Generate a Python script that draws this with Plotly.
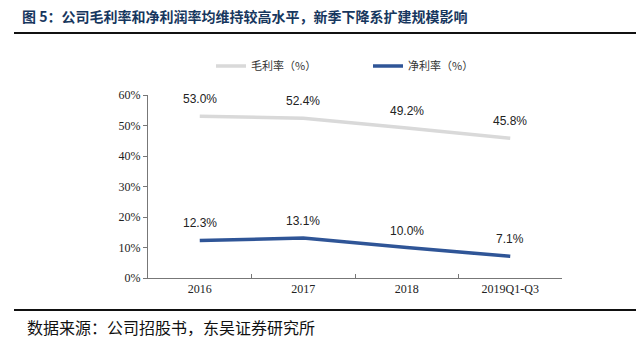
import plotly.graph_objects as go

categories = ["2016", "2017", "2018", "2019Q1-Q3"]
gross_margin = [0.530, 0.524, 0.492, 0.458]
net_margin = [0.123, 0.131, 0.100, 0.071]
series_names = ["毛利率（%）", "净利率（%）"]
y_ticks = [0, 0.1, 0.2, 0.3, 0.4, 0.5, 0.6]

title_text = "图 5：公司毛利率和净利润率均维持较高水平，新季下降系扩建规模影响"
source_text = "数据来源：公司招股书，东吴证券研究所"

CJK = "Noto Sans CJK SC"
W, H = 636, 341
L, R, T, B = 148, 74, 95, 63
PW, PH = W - L - R, H - T - B


def px(x):
    return (x - L) / PW


def py(y):
    return (H - B - y) / PH


fig = go.Figure()
fig.add_trace(go.Scatter(x=categories, y=gross_margin, mode="lines", name=series_names[0],
                         line=dict(color="#D9D9D9", width=3.5)))
fig.add_trace(go.Scatter(x=categories, y=net_margin, mode="lines", name=series_names[1],
                         line=dict(color="#2F5597", width=3.5)))

for series in (gross_margin, net_margin):
    for i, v in enumerate(series):
        fig.add_annotation(x=i, y=v, xref="x", yref="y", text=f"{v*100:.1f}%",
                           showarrow=False, yshift=17,
                           font=dict(family="Liberation Sans, Arial", size=12, color="#222"))

fig.update_layout(
    width=W, height=H,
    margin=dict(l=L, r=R, t=T, b=B),
    paper_bgcolor="white", plot_bgcolor="white",
    showlegend=True,
    legend=dict(orientation="h", x=px(211), xanchor="left",
                y=py(66), yanchor="middle",
                font=dict(family=CJK, size=11, color="#333"),
                entrywidth=112, entrywidthmode="pixels",
                itemwidth=30, bgcolor="rgba(0,0,0,0)"),
    xaxis=dict(type="category", range=[-0.5, 3.5], showline=True, linecolor="#777",
               linewidth=1, ticks="inside", tickson="boundaries", ticklen=4, tickcolor="#777",
               showgrid=False, tickfont=dict(family="Liberation Serif, Times New Roman", size=12, color="#222")),
    yaxis=dict(range=[0, 0.6], tickvals=y_ticks, tickformat=".0%", showline=True, linecolor="#777",
               linewidth=1, ticks="outside", ticklen=4, tickcolor="#777", showgrid=False, zeroline=False,
               tickfont=dict(family="Liberation Serif, Times New Roman", size=12, color="#222")),
)

# title and header rule
fig.add_annotation(x=px(20), y=py(16), xref="paper", yref="paper", xanchor="left", yanchor="middle",
                   text="<b>" + title_text + "</b>", showarrow=False,
                   font=dict(family=CJK, size=14, color="#17375E"))
fig.add_shape(type="line", xref="paper", yref="paper", x0=px(14), x1=px(W), y0=py(33), y1=py(33),
              line=dict(color="#111", width=2))
# footer rule and source
fig.add_shape(type="line", xref="paper", yref="paper", x0=px(14), x1=px(W), y0=py(310), y1=py(310),
              line=dict(color="#111", width=2))
fig.add_annotation(x=px(25), y=py(327), xref="paper", yref="paper", xanchor="left", yanchor="middle",
                   text=source_text, showarrow=False,
                   font=dict(family=CJK, size=16, color="#111"))

fig.write_html("out.html")
